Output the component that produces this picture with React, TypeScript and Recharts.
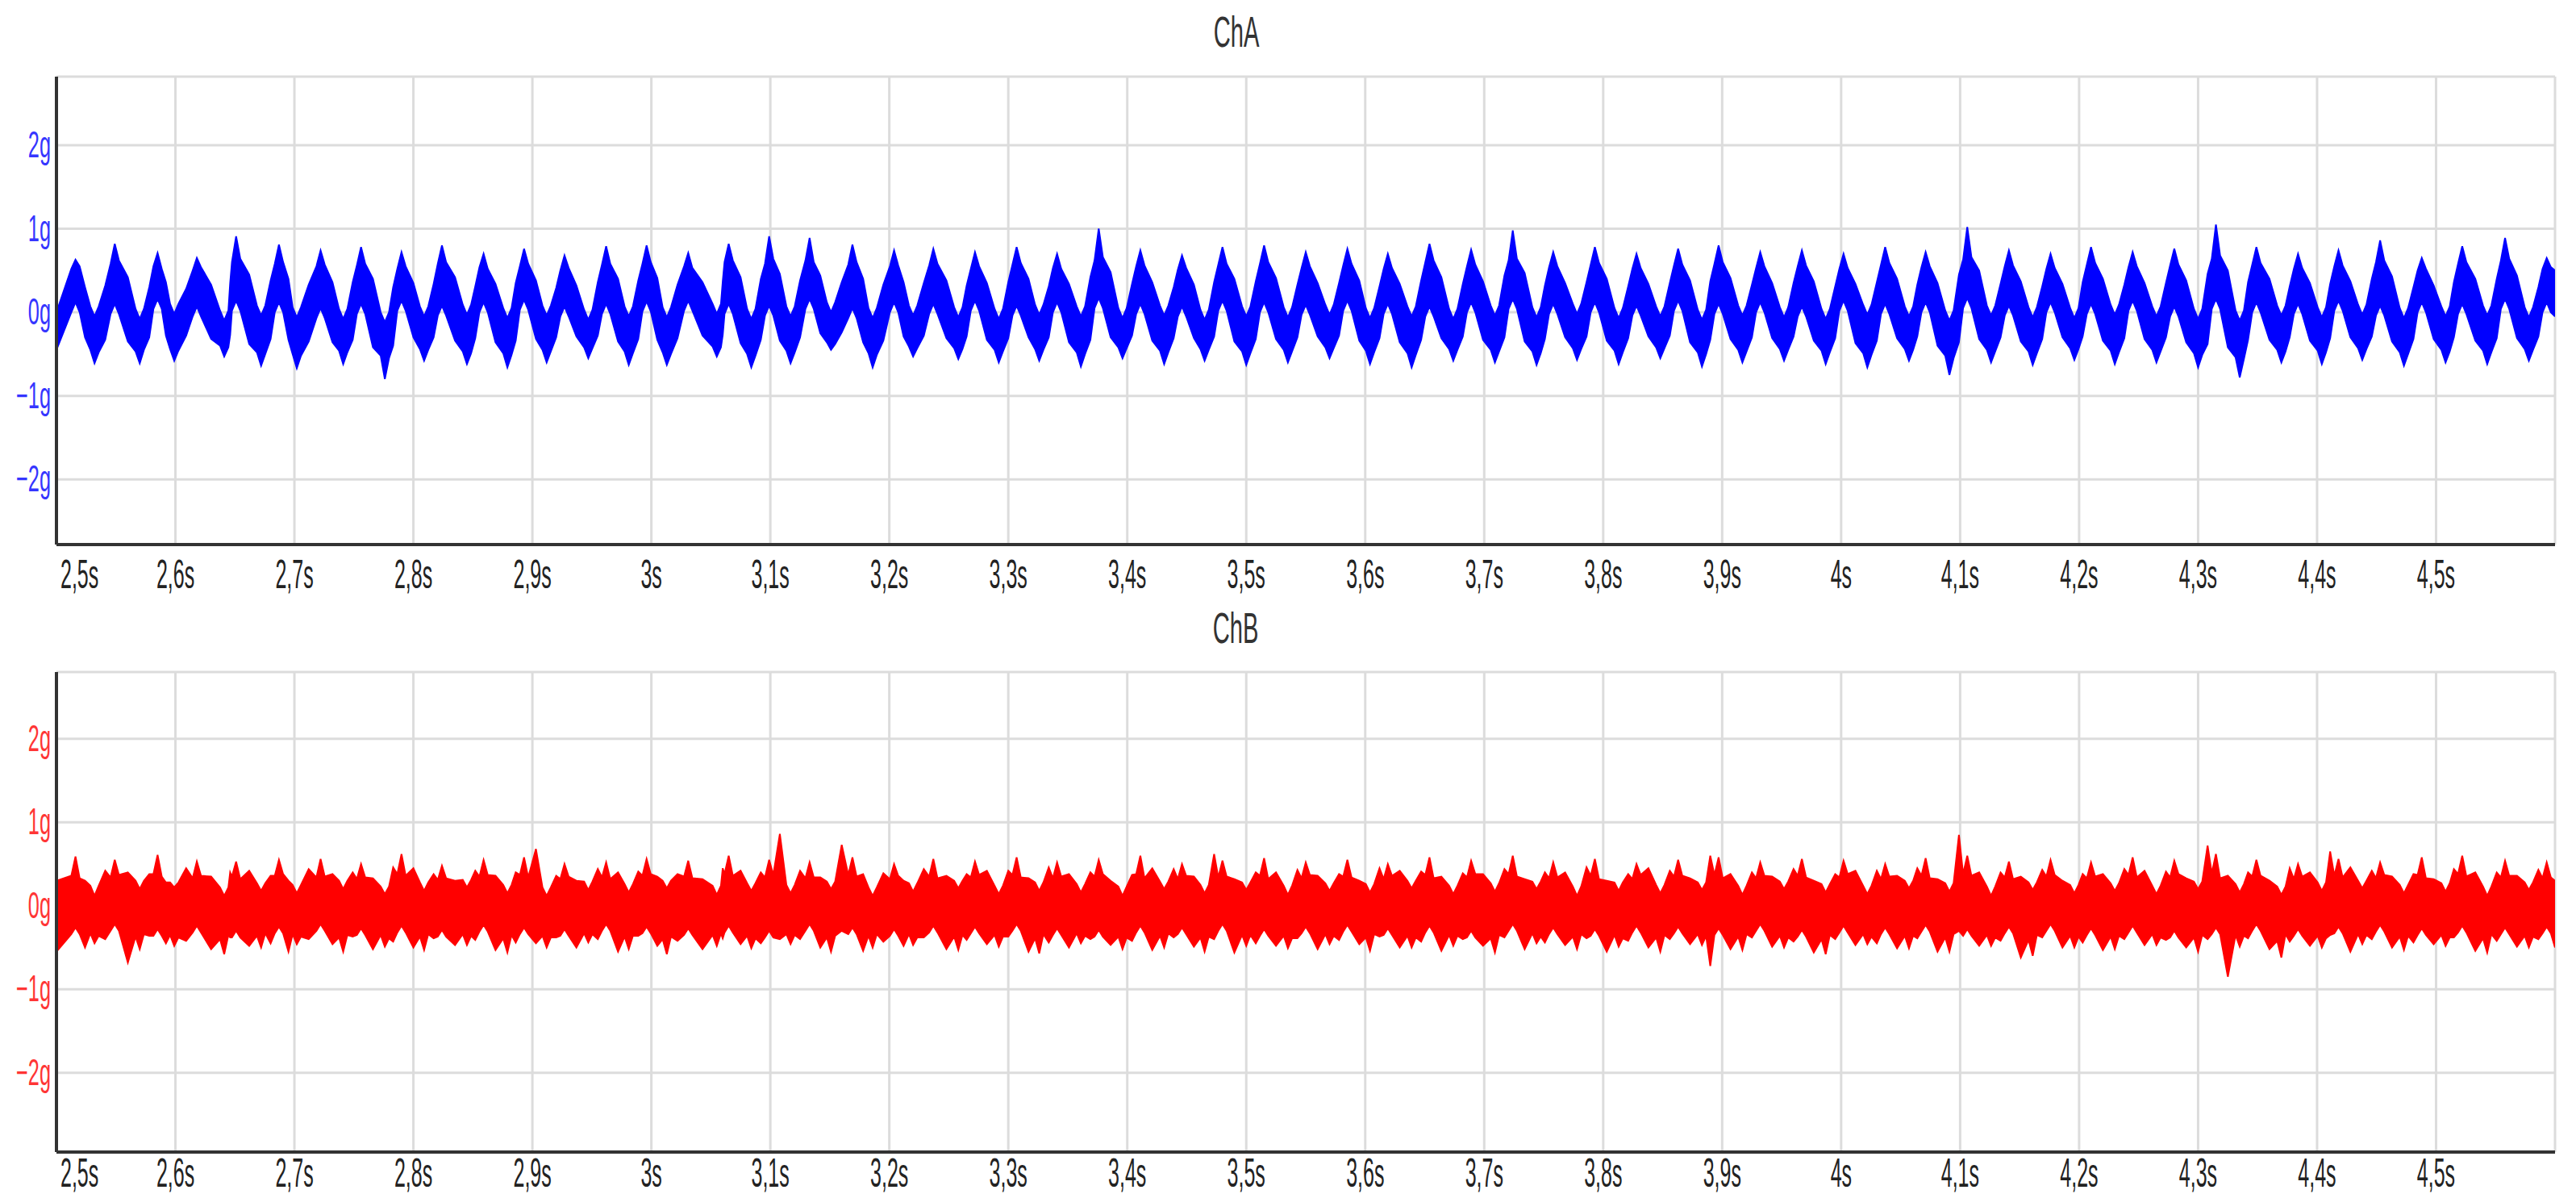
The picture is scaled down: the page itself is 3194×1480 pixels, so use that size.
import React from "react";
import { ComposedChart, Area, XAxis, YAxis, CartesianGrid } from "recharts";

const xTicks = [2.5, 2.6, 2.7, 2.8, 2.9, 3.0, 3.1, 3.2, 3.3, 3.4, 3.5, 3.6, 3.7, 3.8, 3.9, 4.0, 4.1, 4.2, 4.3, 4.4, 4.5];
const xTickLabels = ["2,5s", "2,6s", "2,7s", "2,8s", "2,9s", "3s", "3,1s", "3,2s", "3,3s", "3,4s", "3,5s", "3,6s", "3,7s", "3,8s", "3,9s", "4s", "4,1s", "4,2s", "4,3s", "4,4s", "4,5s"];
const yTicks = [-2, -1, 0, 1, 2];
const yTickLabels = ["\u22122g", "\u22121g", "0g", "1g", "2g"];

// sample times: wave peaks, falling slope, troughs, rising slope
const peakT = [2.516, 2.549, 2.585, 2.618, 2.651, 2.687, 2.722, 2.756, 2.790, 2.824, 2.859, 2.893, 2.927, 2.962, 2.996,
  3.031, 3.065, 3.099, 3.133, 3.169, 3.204, 3.237, 3.272, 3.307, 3.341, 3.376, 3.411, 3.446, 3.480, 3.515, 3.550, 3.585,
  3.619, 3.654, 3.689, 3.724, 3.758, 3.793, 3.828, 3.863, 3.897, 3.932, 3.967, 4.002, 4.037, 4.071, 4.106, 4.141, 4.176,
  4.210, 4.245, 4.280, 4.315, 4.349, 4.384, 4.418, 4.453, 4.488, 4.522, 4.558, 4.593];
const fallT = [2.524, 2.560, 2.592, 2.630, 2.662, 2.695, 2.732, 2.766, 2.800, 2.835, 2.869, 2.903, 2.937, 2.972, 3.005,
  3.043, 3.075, 3.108, 3.142, 3.178, 3.212, 3.248, 3.282, 3.317, 3.351, 3.386, 3.421, 3.456, 3.490, 3.525, 3.560, 3.595,
  3.629, 3.664, 3.699, 3.734, 3.768, 3.803, 3.838, 3.873, 3.907, 3.942, 3.977, 4.012, 4.047, 4.081, 4.116, 4.151, 4.186,
  4.220, 4.255, 4.290, 4.325, 4.360, 4.394, 4.428, 4.463, 4.498, 4.533, 4.568];
const troughT = [2.532, 2.570, 2.599, 2.641, 2.672, 2.702, 2.741, 2.776, 2.809, 2.845, 2.879, 2.912, 2.947, 2.981, 3.013,
  3.055, 3.084, 3.117, 3.151, 3.186, 3.220, 3.258, 3.292, 3.326, 3.361, 3.396, 3.431, 3.465, 3.500, 3.535, 3.570, 3.604,
  3.639, 3.674, 3.709, 3.744, 3.778, 3.813, 3.848, 3.883, 3.917, 3.952, 3.987, 4.022, 4.057, 4.091, 4.126, 4.161, 4.196,
  4.230, 4.265, 4.300, 4.335, 4.370, 4.404, 4.438, 4.473, 4.508, 4.543, 4.578];
const riseT = [2.541, 2.578, 2.609, 2.646, 2.680, 2.712, 2.749, 2.783, 2.817, 2.852, 2.886, 2.920, 2.955, 2.989, 3.022,
  3.060, 3.092, 3.125, 3.160, 3.195, 3.229, 3.265, 3.300, 3.334, 3.369, 3.404, 3.439, 3.473, 3.508, 3.543, 3.578, 3.612,
  3.647, 3.682, 3.717, 3.751, 3.786, 3.821, 3.856, 3.890, 3.925, 3.960, 3.995, 4.030, 4.064, 4.099, 4.134, 4.169, 4.203,
  4.238, 4.273, 4.308, 4.342, 4.377, 4.411, 4.446, 4.481, 4.515, 4.551, 4.586];
const edgeT = [2.5, 4.6];
// half-width of the crest / basin around each spike tip, seconds
const CREST = 0.0035;

// ChA: upper (hi) and lower (lo) edge of the trace, in g
const aPeakHi = [0.63, 0.82, 0.71, 0.65, 0.91, 0.81, 0.74, 0.78, 0.72, 0.80,
  0.70, 0.76, 0.68, 0.79, 0.80, 0.71, 0.82, 0.91, 0.89, 0.81,
  0.74, 0.76, 0.72, 0.78, 0.70, 1.00, 0.74, 0.68, 0.78, 0.80,
  0.72, 0.76, 0.70, 0.82, 0.75, 0.98, 0.72, 0.78, 0.70, 0.76,
  0.80, 0.72, 0.74, 0.70, 0.78, 0.72, 1.02, 0.74, 0.70, 0.78,
  0.72, 0.76, 1.05, 0.78, 0.70, 0.74, 0.86, 0.65, 0.79, 0.89, 0.65];
const aPeakLo = [0.12, 0.10, 0.16, 0.07, 0.14, 0.12, 0.05, 0.10, 0.14, 0.08,
  0.12, 0.15, 0.07, 0.10, 0.13, 0.14, 0.10, 0.08, 0.16, 0.05,
  0.12, 0.10, 0.14, 0.08, 0.12, 0.17, 0.10, 0.07, 0.14, 0.12,
  0.09, 0.14, 0.10, 0.07, 0.12, 0.16, 0.10, 0.12, 0.08, 0.14,
  0.10, 0.12, 0.07, 0.14, 0.10, 0.12, 0.17, 0.08, 0.12, 0.10,
  0.14, 0.07, 0.16, 0.12, 0.10, 0.14, 0.08, 0.12, 0.10, 0.16, 0.12];
const aCrestBeforeHi = [0.52, 0.58, 0.55, 0.50, 0.60, 0.58, 0.55, 0.56, 0.52, 0.58,
  0.54, 0.55, 0.50, 0.57, 0.58, 0.55, 0.60, 0.58, 0.62, 0.57,
  0.55, 0.56, 0.52, 0.57, 0.53, 0.62, 0.55, 0.51, 0.57, 0.58,
  0.53, 0.56, 0.52, 0.60, 0.55, 0.62, 0.54, 0.57, 0.52, 0.56,
  0.58, 0.53, 0.55, 0.52, 0.57, 0.54, 0.63, 0.55, 0.52, 0.57,
  0.54, 0.56, 0.64, 0.57, 0.52, 0.55, 0.60, 0.50, 0.58, 0.62, 0.52];
const aCrestAfterHi = [0.55, 0.62, 0.52, 0.54, 0.64, 0.60, 0.57, 0.58, 0.55, 0.60,
  0.52, 0.58, 0.53, 0.58, 0.60, 0.53, 0.62, 0.64, 0.60, 0.60,
  0.56, 0.58, 0.55, 0.59, 0.52, 0.66, 0.56, 0.53, 0.58, 0.60,
  0.55, 0.58, 0.53, 0.62, 0.57, 0.64, 0.55, 0.59, 0.53, 0.57,
  0.60, 0.55, 0.56, 0.53, 0.59, 0.55, 0.66, 0.56, 0.53, 0.59,
  0.55, 0.57, 0.68, 0.59, 0.53, 0.56, 0.62, 0.52, 0.60, 0.64, 0.54];
const aCrestLo = [0.00, -0.02, 0.04, -0.05, 0.02, 0.00, -0.07, -0.02, 0.02, -0.04,
  0.00, 0.03, -0.05, -0.02, 0.01, 0.02, -0.02, -0.04, 0.04, -0.07,
  0.00, -0.02, 0.02, -0.04, 0.00, 0.05, -0.02, -0.05, 0.02, 0.00,
  -0.03, 0.02, -0.02, -0.05, 0.00, 0.04, -0.02, 0.00, -0.04, 0.02,
  -0.02, 0.00, -0.05, 0.02, -0.02, 0.00, 0.05, -0.04, 0.00, -0.02,
  0.02, -0.05, 0.04, 0.00, -0.02, 0.02, -0.04, 0.00, -0.02, 0.04, 0.00];
const aFallHi = [0.30, 0.42, 0.36, 0.33, 0.45, 0.40, 0.36, 0.40, 0.35, 0.42,
  0.34, 0.38, 0.32, 0.40, 0.41, 0.36, 0.42, 0.46, 0.44, 0.40,
  0.36, 0.38, 0.35, 0.40, 0.34, 0.48, 0.36, 0.33, 0.40, 0.41,
  0.35, 0.38, 0.34, 0.42, 0.37, 0.47, 0.35, 0.40, 0.34, 0.38,
  0.41, 0.35, 0.37, 0.34, 0.40, 0.35, 0.50, 0.37, 0.34, 0.40,
  0.35, 0.38, 0.50, 0.40, 0.35, 0.37, 0.43, 0.32, 0.40, 0.44];
const aFallLo = [-0.30, -0.35, -0.28, -0.32, -0.38, -0.33, -0.36, -0.42, -0.30, -0.34,
  -0.36, -0.32, -0.29, -0.35, -0.33, -0.28, -0.37, -0.34, -0.25, -0.36,
  -0.29, -0.31, -0.33, -0.30, -0.36, -0.30, -0.34, -0.31, -0.35, -0.32,
  -0.29, -0.34, -0.36, -0.31, -0.33, -0.35, -0.30, -0.34, -0.29, -0.36,
  -0.32, -0.31, -0.34, -0.37, -0.31, -0.40, -0.32, -0.35, -0.30, -0.34,
  -0.32, -0.36, -0.42, -0.33, -0.34, -0.30, -0.35, -0.32, -0.34, -0.31];
const aTroughHi = [-0.05, -0.08, -0.02, -0.10, -0.04, -0.06, -0.08, -0.12, -0.05, -0.03,
  -0.07, -0.04, -0.09, -0.05, -0.06, -0.02, -0.08, -0.05, 0.00, -0.07,
  -0.04, -0.06, -0.08, -0.03, -0.05, -0.07, -0.04, -0.09, -0.05, -0.06,
  -0.03, -0.07, -0.05, -0.08, -0.04, -0.06, -0.02, -0.07, -0.05, -0.09,
  -0.04, -0.06, -0.08, -0.03, -0.05, -0.10, -0.04, -0.06, -0.07, -0.03,
  -0.05, -0.08, -0.10, -0.04, -0.06, -0.03, -0.07, -0.05, -0.04, -0.06];
const aTroughLo = [-0.61, -0.61, -0.58, -0.53, -0.64, -0.67, -0.62, -0.80, -0.58, -0.62,
  -0.66, -0.60, -0.55, -0.63, -0.63, -0.53, -0.66, -0.61, -0.45, -0.66,
  -0.53, -0.56, -0.60, -0.58, -0.65, -0.55, -0.62, -0.58, -0.63, -0.60,
  -0.55, -0.62, -0.66, -0.58, -0.60, -0.63, -0.57, -0.62, -0.55, -0.65,
  -0.60, -0.58, -0.62, -0.66, -0.58, -0.75, -0.60, -0.63, -0.57, -0.62,
  -0.60, -0.66, -0.78, -0.60, -0.62, -0.57, -0.64, -0.60, -0.62, -0.58];
const aBasinHi = [0.07, 0.04, 0.10, 0.02, 0.08, 0.06, 0.04, 0.00, 0.07, 0.09,
  0.05, 0.08, 0.03, 0.07, 0.06, 0.10, 0.04, 0.07, 0.12, 0.05,
  0.08, 0.06, 0.04, 0.09, 0.07, 0.05, 0.08, 0.03, 0.07, 0.06,
  0.09, 0.05, 0.07, 0.04, 0.08, 0.06, 0.10, 0.05, 0.07, 0.03,
  0.08, 0.06, 0.04, 0.09, 0.07, 0.02, 0.08, 0.06, 0.05, 0.09,
  0.07, 0.04, 0.02, 0.08, 0.06, 0.09, 0.05, 0.07, 0.08, 0.06];
const aBasinBeforeLo = [-0.45, -0.47, -0.44, -0.40, -0.48, -0.50, -0.46, -0.52, -0.44, -0.47,
  -0.49, -0.45, -0.42, -0.47, -0.48, -0.41, -0.50, -0.46, -0.36, -0.49,
  -0.41, -0.43, -0.45, -0.44, -0.48, -0.42, -0.46, -0.44, -0.47, -0.45,
  -0.42, -0.46, -0.49, -0.44, -0.45, -0.47, -0.43, -0.46, -0.42, -0.48,
  -0.45, -0.44, -0.46, -0.49, -0.44, -0.52, -0.45, -0.47, -0.43, -0.46,
  -0.45, -0.49, -0.54, -0.45, -0.46, -0.43, -0.48, -0.45, -0.46, -0.44];
const aBasinAfterLo = [-0.48, -0.45, -0.46, -0.42, -0.50, -0.52, -0.48, -0.55, -0.45, -0.49,
  -0.51, -0.47, -0.43, -0.49, -0.50, -0.42, -0.52, -0.48, -0.38, -0.51,
  -0.43, -0.44, -0.47, -0.45, -0.50, -0.43, -0.48, -0.45, -0.49, -0.47,
  -0.43, -0.48, -0.51, -0.45, -0.47, -0.49, -0.44, -0.48, -0.43, -0.50,
  -0.47, -0.45, -0.48, -0.51, -0.45, -0.55, -0.47, -0.49, -0.44, -0.48,
  -0.47, -0.51, -0.56, -0.47, -0.48, -0.44, -0.50, -0.47, -0.48, -0.45];
const aRiseHi = [0.32, 0.30, 0.28, 0.35, 0.38, 0.33, 0.36, 0.30, 0.34, 0.31,
  0.35, 0.29, 0.36, 0.38, 0.33, 0.37, 0.40, 0.38, 0.36, 0.33,
  0.35, 0.32, 0.36, 0.31, 0.42, 0.34, 0.30, 0.36, 0.37, 0.33,
  0.35, 0.31, 0.38, 0.34, 0.44, 0.32, 0.36, 0.31, 0.35, 0.37,
  0.33, 0.35, 0.31, 0.36, 0.33, 0.45, 0.34, 0.31, 0.36, 0.33,
  0.35, 0.46, 0.36, 0.31, 0.34, 0.40, 0.30, 0.36, 0.40, 0.30];
const aRiseLo = [-0.33, -0.30, -0.28, -0.27, -0.32, -0.35, -0.33, -0.40, -0.30, -0.31,
  -0.34, -0.30, -0.28, -0.32, -0.31, -0.27, -0.33, -0.30, -0.24, -0.34,
  -0.28, -0.29, -0.31, -0.30, -0.33, -0.28, -0.31, -0.29, -0.32, -0.30,
  -0.28, -0.31, -0.33, -0.29, -0.30, -0.32, -0.29, -0.31, -0.28, -0.33,
  -0.30, -0.29, -0.31, -0.34, -0.29, -0.36, -0.30, -0.32, -0.29, -0.31,
  -0.30, -0.38, -0.33, -0.30, -0.31, -0.29, -0.32, -0.30, -0.31, -0.29];
const aEdgeHi = [0.0, 0.5];
const aEdgeLo = [-0.45, -0.05];

// ChB: same rhythm, flatter and much noisier
const bPeakHi = [0.59, 0.55, 0.61, 0.53, 0.53, 0.55, 0.56, 0.50, 0.62, 0.48,
  0.55, 0.58, 0.50, 0.52, 0.56, 0.54, 0.60, 0.55, 0.52, 0.58,
  0.50, 0.56, 0.53, 0.58, 0.52, 0.55, 0.60, 0.50, 0.54, 0.57,
  0.52, 0.55, 0.50, 0.58, 0.54, 0.60, 0.52, 0.56, 0.50, 0.55,
  0.58, 0.52, 0.56, 0.54, 0.50, 0.57, 0.60, 0.53, 0.55, 0.52,
  0.58, 0.54, 0.62, 0.55, 0.50, 0.56, 0.52, 0.58, 0.60, 0.54, 0.52];
const bPeakLo = [-0.26, -0.22, -0.28, -0.24, -0.30, -0.25, -0.22, -0.27, -0.24, -0.29,
  -0.23, -0.26, -0.28, -0.22, -0.25, -0.27, -0.24, -0.30, -0.22, -0.26,
  -0.28, -0.24, -0.25, -0.22, -0.27, -0.29, -0.24, -0.26, -0.22, -0.28,
  -0.25, -0.23, -0.27, -0.24, -0.30, -0.22, -0.26, -0.28, -0.24, -0.25,
  -0.27, -0.22, -0.29, -0.24, -0.26, -0.23, -0.28, -0.25, -0.22, -0.27,
  -0.24, -0.30, -0.26, -0.22, -0.28, -0.25, -0.23, -0.27, -0.24, -0.26, -0.25];
const bCrestBeforeHi = [0.36, 0.34, 0.38, 0.33, 0.35, 0.36, 0.34, 0.32, 0.38, 0.31,
  0.35, 0.37, 0.32, 0.34, 0.36, 0.35, 0.38, 0.34, 0.33, 0.37,
  0.32, 0.35, 0.34, 0.37, 0.33, 0.35, 0.38, 0.32, 0.34, 0.36,
  0.33, 0.35, 0.32, 0.37, 0.34, 0.38, 0.33, 0.36, 0.32, 0.35,
  0.37, 0.33, 0.36, 0.34, 0.32, 0.36, 0.38, 0.34, 0.35, 0.33,
  0.37, 0.34, 0.39, 0.35, 0.32, 0.36, 0.33, 0.37, 0.38, 0.34, 0.33];
const bCrestAfterHi = [0.33, 0.37, 0.35, 0.36, 0.32, 0.38, 0.35, 0.34, 0.36, 0.33,
  0.37, 0.34, 0.35, 0.32, 0.38, 0.33, 0.36, 0.37, 0.34, 0.35,
  0.36, 0.33, 0.37, 0.34, 0.35, 0.38, 0.33, 0.36, 0.35, 0.32,
  0.37, 0.34, 0.36, 0.33, 0.38, 0.35, 0.34, 0.32, 0.37, 0.36,
  0.33, 0.36, 0.34, 0.38, 0.35, 0.33, 0.36, 0.32, 0.37, 0.35,
  0.34, 0.38, 0.33, 0.36, 0.35, 0.34, 0.37, 0.33, 0.35, 0.36, 0.34];
const bCrestLo = [-0.34, -0.30, -0.36, -0.32, -0.38, -0.33, -0.30, -0.35, -0.32, -0.37,
  -0.31, -0.34, -0.36, -0.30, -0.33, -0.35, -0.32, -0.38, -0.30, -0.34,
  -0.36, -0.32, -0.33, -0.30, -0.35, -0.37, -0.32, -0.34, -0.30, -0.36,
  -0.33, -0.31, -0.35, -0.32, -0.38, -0.30, -0.34, -0.36, -0.32, -0.33,
  -0.35, -0.30, -0.37, -0.32, -0.34, -0.31, -0.36, -0.33, -0.30, -0.35,
  -0.32, -0.38, -0.34, -0.30, -0.36, -0.33, -0.31, -0.35, -0.32, -0.34, -0.33];
const bFallHi = [0.30, 0.40, 0.28, 0.35, 0.42, 0.30, 0.38, 0.33, 0.45, 0.30,
  0.36, 0.68, 0.30, 0.40, 0.35, 0.32, 0.42, 0.86, 0.34, 0.38,
  0.30, 0.36, 0.42, 0.33, 0.38, 0.30, 0.45, 0.35, 0.32, 0.40,
  0.36, 0.30, 0.42, 0.35, 0.38, 0.32, 0.40, 0.30, 0.45, 0.33,
  0.38, 0.35, 0.30, 0.42, 0.36, 0.32, 0.40, 0.35, 0.30, 0.38,
  0.42, 0.33, 0.36, 0.30, 0.40, 0.46, 0.35, 0.32, 0.40, 0.36];
const bFallLo = [-0.50, -0.68, -0.45, -0.52, -0.48, -0.55, -0.46, -0.52, -0.50, -0.47,
  -0.53, -0.45, -0.50, -0.55, -0.48, -0.52, -0.46, -0.40, -0.50, -0.54,
  -0.48, -0.52, -0.46, -0.55, -0.50, -0.47, -0.53, -0.49, -0.56, -0.48,
  -0.52, -0.46, -0.50, -0.54, -0.48, -0.52, -0.47, -0.55, -0.50, -0.46,
  -0.52, -0.49, -0.56, -0.47, -0.51, -0.55, -0.48, -0.62, -0.50, -0.53,
  -0.47, -0.50, -0.85, -0.52, -0.48, -0.55, -0.50, -0.46, -0.54, -0.49];
const bDipHi = [0.12, 0.20, 0.22, 0.12, 0.18, 0.15, 0.20, 0.14, 0.18, 0.22,
  0.15, 0.12, 0.19, 0.16, 0.21, 0.13, 0.18, 0.15, 0.20, 0.12,
  0.17, 0.21, 0.14, 0.18, 0.16, 0.12, 0.20, 0.15, 0.19, 0.13,
  0.18, 0.16, 0.21, 0.14, 0.17, 0.20, 0.12, 0.18, 0.15, 0.19,
  0.13, 0.20, 0.16, 0.14, 0.21, 0.17, 0.12, 0.19, 0.15, 0.18,
  0.14, 0.20, 0.16, 0.13, 0.18, 0.21, 0.15, 0.17, 0.12, 0.19];
const bDipLo = [-0.45, -0.52, -0.48, -0.58, -0.50, -0.46, -0.55, -0.49, -0.53, -0.47,
  -0.56, -0.50, -0.44, -0.52, -0.58, -0.48, -0.51, -0.46, -0.55, -0.50,
  -0.47, -0.53, -0.49, -0.57, -0.45, -0.52, -0.50, -0.55, -0.48, -0.51,
  -0.46, -0.54, -0.50, -0.48, -0.56, -0.45, -0.52, -0.49, -0.55, -0.47,
  -0.53, -0.50, -0.58, -0.46, -0.51, -0.55, -0.48, -0.60, -0.50, -0.52,
  -0.47, -0.55, -0.49, -0.62, -0.50, -0.46, -0.53, -0.48, -0.56, -0.50];
const bBasinHi = [0.24, 0.30, 0.28, 0.22, 0.27, 0.25, 0.30, 0.23, 0.28, 0.31,
  0.25, 0.22, 0.29, 0.26, 0.30, 0.24, 0.27, 0.25, 0.29, 0.22,
  0.27, 0.30, 0.24, 0.28, 0.26, 0.23, 0.29, 0.25, 0.28, 0.24,
  0.27, 0.26, 0.30, 0.24, 0.27, 0.29, 0.23, 0.28, 0.25, 0.28,
  0.24, 0.29, 0.26, 0.24, 0.30, 0.27, 0.23, 0.28, 0.25, 0.27,
  0.24, 0.29, 0.26, 0.23, 0.28, 0.30, 0.25, 0.27, 0.23, 0.28];
const bBasinBeforeLo = [-0.33, -0.37, -0.35, -0.40, -0.36, -0.34, -0.38, -0.35, -0.37, -0.34,
  -0.39, -0.36, -0.33, -0.37, -0.40, -0.35, -0.36, -0.34, -0.38, -0.36,
  -0.34, -0.37, -0.35, -0.39, -0.33, -0.37, -0.36, -0.38, -0.35, -0.36,
  -0.34, -0.38, -0.36, -0.35, -0.39, -0.33, -0.37, -0.35, -0.38, -0.34,
  -0.37, -0.36, -0.40, -0.34, -0.36, -0.38, -0.35, -0.41, -0.36, -0.37,
  -0.34, -0.38, -0.35, -0.42, -0.36, -0.34, -0.37, -0.35, -0.39, -0.36];
const bBasinAfterLo = [-0.36, -0.34, -0.38, -0.35, -0.33, -0.37, -0.35, -0.39, -0.34, -0.36,
  -0.35, -0.38, -0.34, -0.36, -0.37, -0.33, -0.39, -0.35, -0.36, -0.34,
  -0.38, -0.35, -0.37, -0.34, -0.36, -0.38, -0.33, -0.37, -0.35, -0.39,
  -0.36, -0.34, -0.38, -0.36, -0.35, -0.37, -0.34, -0.39, -0.35, -0.36,
  -0.34, -0.38, -0.35, -0.37, -0.36, -0.34, -0.38, -0.35, -0.37, -0.36,
  -0.38, -0.35, -0.36, -0.34, -0.39, -0.35, -0.36, -0.38, -0.34, -0.37];
const bRiseHi = [0.42, 0.38, 0.45, 0.40, 0.36, 0.44, 0.40, 0.46, 0.38, 0.42,
  0.40, 0.36, 0.44, 0.41, 0.38, 0.45, 0.40, 0.42, 0.73, 0.39,
  0.44, 0.38, 0.42, 0.46, 0.40, 0.37, 0.44, 0.62, 0.40, 0.43,
  0.38, 0.45, 0.41, 0.39, 0.44, 0.40, 0.46, 0.38, 0.42, 0.60,
  0.40, 0.44, 0.38, 0.42, 0.45, 0.85, 0.40, 0.43, 0.38, 0.44,
  0.41, 0.72, 0.40, 0.45, 0.65, 0.42, 0.38, 0.44, 0.40, 0.43];
const bRiseLo = [-0.40, -0.36, -0.42, -0.38, -0.45, -0.40, -0.37, -0.43, -0.39, -0.41,
  -0.44, -0.38, -0.40, -0.36, -0.42, -0.39, -0.45, -0.40, -0.30, -0.43,
  -0.38, -0.41, -0.37, -0.44, -0.40, -0.42, -0.38, -0.40, -0.45, -0.39,
  -0.41, -0.37, -0.43, -0.40, -0.38, -0.44, -0.39, -0.42, -0.40, -0.72,
  -0.38, -0.43, -0.40, -0.45, -0.39, -0.30, -0.42, -0.38, -0.44, -0.40,
  -0.41, -0.40, -0.39, -0.43, -0.35, -0.40, -0.44, -0.38, -0.42, -0.40];
const bEdgeHi = [0.3, 0.3];
const bEdgeLo = [-0.55, -0.5];

type Row = { t: number; v: [number, number] };

const shift = (ts: number[], d: number) => ts.map((t) => t + d);

function rows(parts: [number[], number[], number[]][]): Row[] {
  const out: Row[] = [];
  parts.forEach(([ts, hi, lo]) => ts.forEach((t, i) => out.push({ t, v: [lo[i], hi[i]] })));
  return out.filter((r) => r.t >= 2.5 && r.t <= 4.6).sort((p, q) => p.t - q.t);
}

const dataA = rows([
  [edgeT, aEdgeHi, aEdgeLo],
  [shift(peakT, -CREST), aCrestBeforeHi, aCrestLo],
  [peakT, aPeakHi, aPeakLo],
  [shift(peakT, CREST), aCrestAfterHi, aCrestLo],
  [fallT, aFallHi, aFallLo],
  [shift(troughT, -CREST), aBasinHi, aBasinBeforeLo],
  [troughT, aTroughHi, aTroughLo],
  [shift(troughT, CREST), aBasinHi, aBasinAfterLo],
  [riseT, aRiseHi, aRiseLo],
]);

const dataB = rows([
  [edgeT, bEdgeHi, bEdgeLo],
  [shift(peakT, -CREST), bCrestBeforeHi, bCrestLo],
  [peakT, bPeakHi, bPeakLo],
  [shift(peakT, CREST), bCrestAfterHi, bCrestLo],
  [fallT, bFallHi, bFallLo],
  [shift(troughT, -CREST), bBasinHi, bBasinBeforeLo],
  [troughT, bDipHi, bDipLo],
  [shift(troughT, CREST), bBasinHi, bBasinAfterLo],
  [riseT, bRiseHi, bRiseLo],
]);

const FONT = "'Liberation Sans', Arial, sans-serif";

const XTick = (props: any) => {
  const { x, y, payload, dy } = props;
  const i = xTicks.findIndex((v) => Math.abs(v - payload.value) < 1e-6);
  const first = i === 0;
  return (
    <text transform={`translate(${first ? x + 5 : x},${y + dy}) scale(0.5,1)`} textAnchor={first ? "start" : "middle"}
      fontSize={50} fontFamily={FONT} fill="#222">
      {xTickLabels[i]}
    </text>
  );
};

const YTick = (props: any) => {
  const { y, payload, color } = props;
  const i = yTicks.indexOf(payload.value);
  return (
    <text transform={`translate(63,${y + 15}) scale(0.55,1)`} textAnchor="end" fontSize={46} fontFamily={FONT} fill={color}>
      {yTickLabels[i]}
    </text>
  );
};

function Panel({ data, color, labelColor, domain, top, xAxisH, dy }: {
  data: Row[]; color: string; labelColor: string; domain: [number, number]; top: number; xAxisH: number; dy: number;
}) {
  return (
    <ComposedChart width={3194} height={740} data={data} margin={{ top, right: 26, bottom: 0, left: 0 }}>
      <CartesianGrid stroke="#dcdcdc" strokeWidth={3} />
      <XAxis dataKey="t" type="number" domain={[2.5, 4.6]} ticks={xTicks} interval={0} allowDataOverflow
        height={xAxisH} tickLine={false} tickSize={0} axisLine={{ stroke: "#333", strokeWidth: 4 }}
        tick={<XTick dy={dy} />} />
      <XAxis xAxisId="top" orientation="top" dataKey="t" type="number" domain={[2.5, 4.6]} height={0}
        tick={false} tickLine={false} axisLine={{ stroke: "#111", strokeWidth: 4 }} />
      <YAxis type="number" domain={domain} ticks={yTicks} interval={0} allowDataOverflow width={70}
        tickLine={false} tickSize={0} axisLine={{ stroke: "#333", strokeWidth: 4 }} tick={<YTick color={labelColor} />} />
      <YAxis yAxisId="right" orientation="right" type="number" domain={domain} width={0}
        tick={false} tickLine={false} axisLine={{ stroke: "#777", strokeWidth: 4 }} />
      <Area dataKey="v" type="linear" stroke={color} strokeWidth={2} fill={color} fillOpacity={1}
        dot={false} activeDot={false} isAnimationActive={false} />
    </ComposedChart>
  );
}

export default function App() {
  return (
    <div style={{ position: "absolute", left: 0, top: 0, width: 3194, height: 1480, background: "#fff" }}>
      <div style={{ position: "absolute", left: 0, top: 0 }}>
        <Panel data={dataA} color="#0000ff" labelColor="#3535ff" domain={[-2.78, 2.82]} top={95} xAxisH={65} dy={52} />
      </div>
      <div style={{ position: "absolute", left: 0, top: 740 }}>
        <Panel data={dataB} color="#ff0000" labelColor="#ff3535" domain={[-2.95, 2.8]} top={93} xAxisH={52} dy={41} />
      </div>
      <svg width={3194} height={1480} style={{ position: "absolute", left: 0, top: 0, pointerEvents: "none" }}>
        <text transform="translate(1533,58) scale(0.55,1)" textAnchor="middle" fontSize={53} fontFamily={FONT} fill="#333">ChA</text>
        <text transform="translate(1532,797) scale(0.55,1)" textAnchor="middle" fontSize={53} fontFamily={FONT} fill="#333">ChB</text>
      </svg>
    </div>
  );
}
